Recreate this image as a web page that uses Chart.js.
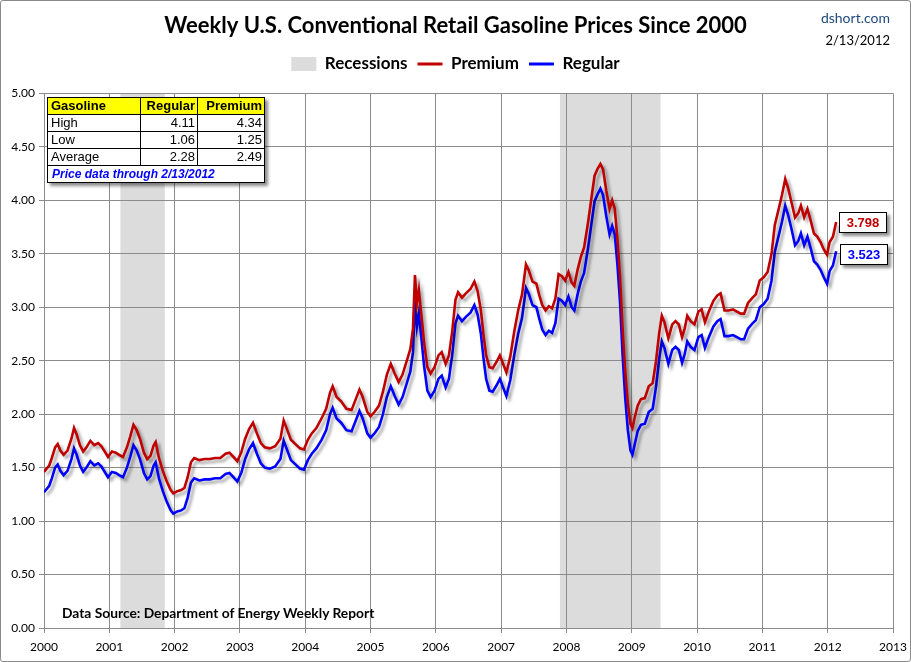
<!DOCTYPE html>
<html lang="en">
<head>
<meta charset="utf-8">
<title>Weekly U.S. Conventional Retail Gasoline Prices Since 2000</title>
<script src="https://cdn.jsdelivr.net/npm/chart.js@4.4.0/dist/chart.umd.min.js"></script>
<style>
    html, body { margin: 0; padding: 0; background: #fff; }
    #wrap { position: relative; width: 909px; height: 660px; border: 1px solid #8a8a8a; border-radius: 3px; overflow: hidden; background: #fff; }
    #chart { position: absolute; left: 0; top: 0; }
    .narrow { font-family: Lato, "Liberation Sans", sans-serif; }
    #site { position: absolute; right: 20px; top: 8px; font-size: 14px; color: #1f497d; }
    #date { position: absolute; right: 20px; top: 31px; font-size: 13px; color: #000; }
    #source { position: absolute; left: 61px; top: 603px; font-size: 13.8px; font-weight: bold; color: #000; }
    #stats { position: absolute; left: 46px; top: 96px; border-collapse: collapse; font-family: "Liberation Sans", Arial, sans-serif;
             font-size: 13px; background: #fff; box-shadow: 3px 3px 3px rgba(0,0,0,0.45); }
    #stats td { border: 1px solid #000; padding: 0 2px 0 3px; height: 16px; line-height: 16px; }
    #stats tr.head td { background: #ffff00; font-weight: bold; }
    #stats td.num { text-align: right; }
    #stats td.foot { color: #0000ff; font-style: italic; font-weight: bold; font-size: 12px; padding-left: 4px; }
    .last { position: absolute; width: 46px; height: 19px; line-height: 19px; background: #fff; border: 1px solid #000;
            font-family: "Liberation Sans", Arial, sans-serif; font-size: 13px; font-weight: bold; text-align: center;
            box-shadow: 3px 3px 3px rgba(0,0,0,0.45); }
</style>
</head>
<body>
<div id="wrap">
    <canvas id="chart" width="909" height="660"></canvas>
    <div id="site" class="narrow">dshort.com</div>
    <div id="date" class="narrow">2/13/2012</div>
    <table id="stats">
        <tr class="head"><td style="width:87px">Gasoline</td><td class="num" style="width:51px">Regular</td><td class="num" style="width:61px">Premium</td></tr>
        <tr><td>High</td><td class="num">4.11</td><td class="num">4.34</td></tr>
        <tr><td>Low</td><td class="num">1.06</td><td class="num">1.25</td></tr>
        <tr><td>Average</td><td class="num">2.28</td><td class="num">2.49</td></tr>
        <tr><td class="foot" colspan="3">Price data through 2/13/2012</td></tr>
    </table>
    <div class="last" id="lastPremium" style="left:838px; top:211px; color:#c00000;">3.798</div>
    <div class="last" id="lastRegular" style="left:839px; top:243px; color:#0000ff;">3.523</div>
    <div id="source" class="narrow">Data Source: Department of Energy Weekly Report</div>
</div>
<script>
    // decimal year of each sample
    const yearFrac = [
        2000.00, 2000.04, 2000.08, 2000.12, 2000.17, 2000.21, 2000.25, 2000.30, 2000.36, 2000.42, 2000.46, 2000.50,
        2000.55, 2000.60, 2000.65, 2000.71, 2000.77, 2000.83, 2000.88, 2000.94, 2000.98,
        2001.04, 2001.10, 2001.15, 2001.21, 2001.27, 2001.32, 2001.37, 2001.42, 2001.47, 2001.53, 2001.58, 2001.63,
        2001.68, 2001.71, 2001.76, 2001.82, 2001.88, 2001.94, 2001.98,
        2002.04, 2002.10, 2002.15, 2002.20, 2002.25, 2002.30, 2002.38, 2002.46, 2002.54, 2002.62, 2002.70, 2002.78,
        2002.84, 2002.90, 2002.96,
        2003.02, 2003.08, 2003.14, 2003.20, 2003.26, 2003.32, 2003.38, 2003.46, 2003.54, 2003.62, 2003.67, 2003.72,
        2003.78, 2003.85, 2003.92, 2003.98,
        2004.04, 2004.10, 2004.17, 2004.25, 2004.32, 2004.38, 2004.42, 2004.48, 2004.55, 2004.63, 2004.71, 2004.78,
        2004.83, 2004.88, 2004.95,
        2005.00, 2005.06, 2005.13, 2005.19, 2005.25, 2005.31, 2005.37, 2005.43, 2005.49, 2005.56, 2005.61, 2005.65,
        2005.68, 2005.71, 2005.74, 2005.78, 2005.82, 2005.87, 2005.92, 2005.98,
        2006.04, 2006.09, 2006.15, 2006.20, 2006.25, 2006.30, 2006.34, 2006.40, 2006.46, 2006.53, 2006.59, 2006.64,
        2006.69, 2006.73, 2006.77, 2006.82, 2006.87, 2006.93, 2006.98,
        2007.03, 2007.08, 2007.14, 2007.20, 2007.26, 2007.32, 2007.38, 2007.42, 2007.48, 2007.54, 2007.58, 2007.63,
        2007.68, 2007.73, 2007.78, 2007.83, 2007.88, 2007.93, 2007.98,
        2008.03, 2008.08, 2008.12, 2008.17, 2008.22, 2008.27, 2008.33, 2008.38, 2008.43, 2008.48, 2008.52, 2008.56,
        2008.61, 2008.66, 2008.70, 2008.74, 2008.78, 2008.82, 2008.86, 2008.90, 2008.94, 2008.98,
        2009.01, 2009.05, 2009.09, 2009.14, 2009.20, 2009.26, 2009.32, 2009.37, 2009.42, 2009.46, 2009.50, 2009.56,
        2009.62, 2009.67, 2009.72, 2009.77, 2009.81, 2009.85, 2009.90, 2009.96,
        2010.02, 2010.07, 2010.12, 2010.18, 2010.25, 2010.31, 2010.36, 2010.42, 2010.48, 2010.55, 2010.61, 2010.67,
        2010.72, 2010.78, 2010.85, 2010.90, 2010.96,
        2011.02, 2011.08, 2011.14, 2011.19, 2011.25, 2011.30, 2011.35, 2011.40, 2011.45, 2011.50, 2011.55, 2011.59,
        2011.64, 2011.69, 2011.74, 2011.79, 2011.84, 2011.89, 2011.94, 2011.99,
        2012.03, 2012.08, 2012.13
    ];

    const regular = [
        1.27, 1.30, 1.33, 1.40, 1.50, 1.53, 1.47, 1.43, 1.47, 1.58, 1.68, 1.62,
        1.52, 1.46, 1.50, 1.56, 1.52, 1.54, 1.51, 1.45, 1.41,
        1.46, 1.45, 1.43, 1.41, 1.50, 1.60, 1.71, 1.66, 1.58, 1.45, 1.39, 1.42,
        1.52, 1.55, 1.40, 1.28, 1.18, 1.10, 1.07,
        1.09, 1.10, 1.12, 1.22, 1.36, 1.40, 1.38, 1.39, 1.39, 1.40, 1.40, 1.44,
        1.45, 1.41, 1.37,
        1.45, 1.58, 1.67, 1.73, 1.63, 1.54, 1.50, 1.49, 1.51, 1.58, 1.75, 1.67,
        1.57, 1.53, 1.49, 1.48,
        1.57, 1.63, 1.68, 1.76, 1.85, 2.00, 2.06, 1.96, 1.92, 1.85, 1.84, 1.95,
        2.03, 1.96, 1.82,
        1.78, 1.82, 1.88, 2.00, 2.16, 2.26, 2.17, 2.09, 2.16, 2.30, 2.40, 2.58,
        3.06, 2.82, 2.94, 2.70, 2.45, 2.22, 2.16, 2.22,
        2.33, 2.36, 2.25, 2.33, 2.55, 2.85, 2.92, 2.87, 2.91, 2.95, 3.02, 2.93,
        2.75, 2.52, 2.33, 2.22, 2.21, 2.27, 2.33,
        2.25, 2.17, 2.32, 2.55, 2.75, 2.90, 3.18, 3.13, 3.02, 3.00, 2.90, 2.79,
        2.74, 2.78, 2.76, 2.85, 3.08, 3.06, 3.02,
        3.10, 3.00, 2.97, 3.12, 3.24, 3.32, 3.55, 3.77, 3.99, 4.06, 4.11, 4.05,
        3.85, 3.68, 3.76, 3.68, 3.40, 3.05, 2.55, 2.15, 1.85, 1.66,
        1.62, 1.73, 1.84, 1.90, 1.91, 2.02, 2.05, 2.25, 2.52, 2.68, 2.62, 2.47,
        2.60, 2.63, 2.60, 2.48, 2.56, 2.68, 2.63, 2.60,
        2.72, 2.74, 2.62, 2.72, 2.82, 2.87, 2.89, 2.73, 2.73, 2.74, 2.72, 2.70,
        2.70, 2.80, 2.85, 2.88, 3.00,
        3.03, 3.08, 3.25, 3.52, 3.67, 3.80, 3.95, 3.85, 3.72, 3.58, 3.62, 3.69,
        3.58, 3.66, 3.55, 3.43, 3.40, 3.35, 3.28, 3.22,
        3.34, 3.39, 3.523
    ];

    const premium = [
        1.46, 1.49, 1.52, 1.59, 1.69, 1.72, 1.66, 1.62, 1.66, 1.77, 1.87, 1.81,
        1.71, 1.65, 1.69, 1.75, 1.71, 1.73, 1.70, 1.64, 1.60,
        1.65, 1.64, 1.62, 1.60, 1.69, 1.79, 1.90, 1.85, 1.77, 1.64, 1.58, 1.61,
        1.71, 1.74, 1.59, 1.47, 1.37, 1.29, 1.26,
        1.28, 1.29, 1.31, 1.41, 1.55, 1.59, 1.57, 1.58, 1.58, 1.59, 1.59, 1.63,
        1.64, 1.60, 1.56,
        1.64, 1.77, 1.86, 1.92, 1.82, 1.73, 1.69, 1.68, 1.70, 1.77, 1.94, 1.86,
        1.76, 1.72, 1.68, 1.67,
        1.76, 1.82, 1.87, 1.96, 2.05, 2.20, 2.26, 2.16, 2.12, 2.05, 2.04, 2.15,
        2.23, 2.16, 2.02,
        1.98, 2.02, 2.08, 2.21, 2.37, 2.47, 2.38, 2.30, 2.37, 2.51, 2.61, 2.80,
        3.30, 3.04, 3.16, 2.92, 2.67, 2.44, 2.38, 2.44,
        2.55, 2.58, 2.47, 2.55, 2.77, 3.07, 3.14, 3.09, 3.13, 3.17, 3.24, 3.15,
        2.97, 2.74, 2.55, 2.44, 2.43, 2.49, 2.55,
        2.47, 2.39, 2.54, 2.77, 2.97, 3.12, 3.40, 3.35, 3.24, 3.22, 3.12, 3.02,
        2.97, 3.01, 2.99, 3.08, 3.31, 3.29, 3.25,
        3.33, 3.23, 3.20, 3.35, 3.47, 3.56, 3.79, 4.01, 4.23, 4.30, 4.34, 4.29,
        4.09, 3.92, 4.00, 3.92, 3.64, 3.29, 2.80, 2.40, 2.10, 1.91,
        1.87, 1.98, 2.08, 2.14, 2.15, 2.26, 2.29, 2.49, 2.76, 2.92, 2.86, 2.71,
        2.84, 2.87, 2.84, 2.72, 2.80, 2.92, 2.87, 2.84,
        2.96, 2.98, 2.86, 2.96, 3.06, 3.11, 3.13, 2.97, 2.97, 2.98, 2.96, 2.94,
        2.94, 3.04, 3.09, 3.12, 3.25,
        3.28, 3.33, 3.50, 3.77, 3.92, 4.05, 4.20, 4.10, 3.97, 3.84, 3.88, 3.95,
        3.84, 3.92, 3.81, 3.69, 3.66, 3.61, 3.54, 3.49,
        3.61, 3.66, 3.798
    ];

    // NBER recessions, start / end as decimal years
    const recessionStart = [2001.17, 2007.90];
    const recessionEnd = [2001.85, 2009.44];

    const xMin = 2000, xMax = 2013;
    const yMin = 0, yMax = 5, yStep = 0.5;

    const fontNarrow = 'Lato, "Liberation Sans", sans-serif';
    const gridColor = '#8c8c8c';

    function toPoints(values) {
        return values.map((v, i) => ({x: yearFrac[i], y: v}));
    }

    // grey recession bands, drawn under the grid
    const recessionBands = {
        id: 'recessionBands',
        beforeDraw(chart) {
            const {ctx, chartArea, scales} = chart;
            ctx.save();
            ctx.fillStyle = '#dcdcdc';
            for (let i = 0; i < recessionStart.length; i++) {
                const x0 = scales.x.getPixelForValue(recessionStart[i]);
                const x1 = scales.x.getPixelForValue(recessionEnd[i]);
                ctx.fillRect(x0, chartArea.top, x1 - x0, chartArea.bottom - chartArea.top);
            }
            ctx.restore();
        }
    };

    // soft drop shadow under the price lines
    const lineShadow = {
        id: 'lineShadow',
        beforeDatasetDraw(chart) {
            const ctx = chart.ctx;
            ctx.save();
            ctx.shadowColor = 'rgba(0,0,0,0.35)';
            ctx.shadowBlur = 3;
            ctx.shadowOffsetX = 3;
            ctx.shadowOffsetY = 3;
        },
        afterDatasetDraw(chart) {
            chart.ctx.restore();
        }
    };

    // extra room between legend and plot
    const legendGap = {
        id: 'legendGap',
        beforeInit(chart) {
            const fit = chart.legend.fit;
            chart.legend.fit = function () {
                fit.call(this);
                this.height += 11;
            };
        }
    };

    const chart = new Chart(document.getElementById('chart'), {
        type: 'line',
        data: {
            datasets: [
                {label: 'Premium', data: toPoints(premium), borderColor: '#c00000', borderWidth: 2.6},
                {label: 'Regular', data: toPoints(regular), borderColor: '#0000ff', borderWidth: 2.6}
            ]
        },
        options: {
            responsive: false,
            animation: false,
            parsing: false,
            layout: {padding: 0},
            elements: {point: {radius: 0}, line: {tension: 0}},
            plugins: {
                tooltip: {enabled: false},
                title: {
                    display: true,
                    text: 'Weekly U.S. Conventional Retail Gasoline Prices Since 2000',
                    color: '#000',
                    font: {family: fontNarrow, size: 22, weight: 'bold'},
                    padding: {top: 12, bottom: 6}
                },
                legend: {
                    display: true,
                    labels: {
                        color: '#000',
                        font: {family: fontNarrow, size: 17, weight: 'bold'},
                        usePointStyle: true,
                        boxHeight: 14,
                        pointStyleWidth: 25,
                        padding: 10,
                        generateLabels() {
                            return [
                                {text: 'Recessions', pointStyle: 'rect', fillStyle: '#dcdcdc', strokeStyle: '#dcdcdc', lineWidth: 0},
                                {text: 'Premium', pointStyle: 'line', strokeStyle: '#c00000', fillStyle: '#c00000', lineWidth: 3},
                                {text: 'Regular', pointStyle: 'line', strokeStyle: '#0000ff', fillStyle: '#0000ff', lineWidth: 3}
                            ];
                        }
                    }
                }
            },
            scales: {
                x: {
                    type: 'linear',
                    min: xMin,
                    max: xMax,
                    afterFit(scale) {
                        scale.height = 33;
                        scale.paddingRight = 17;
                    },
                    grid: {color: gridColor, tickLength: 5},
                    border: {color: gridColor},
                    ticks: {
                        stepSize: 1,
                        color: '#000',
                        padding: 7,
                        maxRotation: 0,
                        font: {family: fontNarrow, size: 12},
                        callback: v => String(v)
                    }
                },
                y: {
                    min: yMin,
                    max: yMax,
                    afterFit(scale) { scale.width = 43; },
                    grid: {color: gridColor, tickLength: 5},
                    border: {color: gridColor},
                    ticks: {
                        stepSize: yStep,
                        color: '#000',
                        padding: 4,
                        font: {family: fontNarrow, size: 12},
                        callback: v => v.toFixed(2)
                    }
                }
            }
        },
        plugins: [recessionBands, lineShadow, legendGap]
    });
</script>
</body>
</html>
